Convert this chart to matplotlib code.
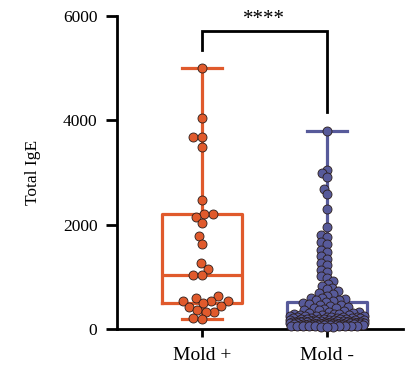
import matplotlib
matplotlib.use('Agg')
import matplotlib.pyplot as plt
import numpy as np

plt.rcParams['font.family'] = 'Liberation Serif'

# Total IgE values
mold_pos = [5000, 4050, 3675, 3670, 3483, 2473, 2204, 2198, 2154, 2038,
            1783, 1630, 1259, 1150, 1035, 1030, 638, 587, 537, 535, 540,
            492, 441, 428, 364, 332, 330, 205, 186]

mold_neg = [3796, 3050, 2985, 2910, 2680, 2580, 2290, 1945, 1800, 1760,
            1660, 1620, 1515, 1480, 1390, 1350, 1260, 1220, 1135, 1090,
            1020, 980, 910, 870, 830, 790, 760, 720, 690, 660, 630, 600,
            590, 575, 560, 545, 530,
            515, 498, 482, 466, 452, 438, 424, 410, 396, 383, 370, 357, 345,
            332, 320, 308,
            298, 291, 285, 279, 273, 268, 262, 257, 252, 247, 242, 237, 233,
            229, 225, 221, 217, 213, 209, 205, 202, 198, 195, 192, 188, 185,
            182, 179, 176, 173, 170, 167, 164, 161, 159, 156, 153, 151, 148,
            146, 143, 141, 140, 138, 136, 134, 131, 129, 127, 125, 124, 122,
            120, 118, 116, 115, 114, 112, 110, 108, 106, 105, 104, 102, 100,
            98, 96, 95, 94, 92, 90, 88, 86, 84, 82, 80, 78, 76, 74, 72, 70,
            68, 66, 64, 62, 60, 58, 56, 54, 52, 50, 48, 46, 44, 42]

groups = ['Mold +', 'Mold -']
colors = ['#E05A2C', '#575A9A']
yticks = [0, 2000, 4000, 6000]
stars = '****'


def swarm(ax, xpos, vals, diam, half):
    # simple beeswarm in pixel space, overlap allowed when it gets crowded
    pts = ax.transData.transform(np.column_stack([np.full(len(vals), xpos), vals]))
    ys = pts[:, 1]
    ppu = ax.transData.transform((1, 0))[0] - ax.transData.transform((0, 0))[0]
    cand = np.arange(-half, half + 0.01, 0.5)
    cand = cand[np.argsort(np.abs(cand), kind='stable')]
    xs = np.zeros(len(vals))
    px, py = [], []
    for i in np.argsort(ys):
        y = ys[i]
        x = 0.
        if px:
            ax_ = np.array(px)
            ay_ = np.array(py)
            near = np.abs(ay_ - y) < diam
            if near.any():
                dx = cand[:, None] - ax_[near][None, :]
                dy = (y - ay_[near])[None, :]
                dist = np.sqrt(dx**2 + dy**2)
                over = np.clip(diam - dist, 0, None).max(axis=1)
                x = cand[np.argmin(over)]
        xs[i] = x
        px.append(x)
        py.append(y)
    return xpos + xs / ppu


fig = plt.figure(figsize=(4.06, 3.70), dpi=100)
ax = fig.add_axes([0.288, 0.111, 0.704, 0.846])
ax.set_xlim(0.32, 2.608)
ax.set_ylim(0, 6000)

# collision size per group: the crowded group is allowed to overlap
diams = [8.4, 5.6]
for k, (vals, col) in enumerate(zip([mold_pos, mold_neg], colors)):
    lp = dict(color=col, linewidth=2.3)
    ax.boxplot(vals, positions=[k + 1], widths=0.64, whis=(0, 100),
               showfliers=False, capwidths=0.32,
               boxprops=lp, whiskerprops=lp, capprops=lp, medianprops=lp)
    xs = swarm(ax, k + 1, vals, diams[k], 37)
    ax.plot(xs, vals, 'o', color=col, ms=6.5, mec='#2b1d1a', mew=0.6,
            zorder=3, clip_on=False)

# significance bracket
ax.plot([1, 1, 2, 2], [5350, 5713, 5713, 4160], color='black', lw=2,
        clip_on=False, solid_joinstyle='miter')
ax.text(1.5, 5750, stars, ha='center', va='bottom', fontsize=15)

ax.spines['top'].set_visible(False)
ax.spines['right'].set_visible(False)
ax.spines['left'].set_linewidth(2)
ax.spines['bottom'].set_linewidth(2)
ax.set_xticks([1, 2])
ax.set_xticklabels(groups, fontsize=14)
ax.set_yticks(yticks)
ax.set_yticklabels([str(v) for v in yticks], fontsize=12.5)
ax.tick_params(axis='y', length=8, width=2, pad=6)
ax.tick_params(axis='x', length=6, width=2, pad=7)
ax.set_ylabel('Total IgE', fontsize=12.5, labelpad=16)

fig.savefig('out.png', dpi=100)
